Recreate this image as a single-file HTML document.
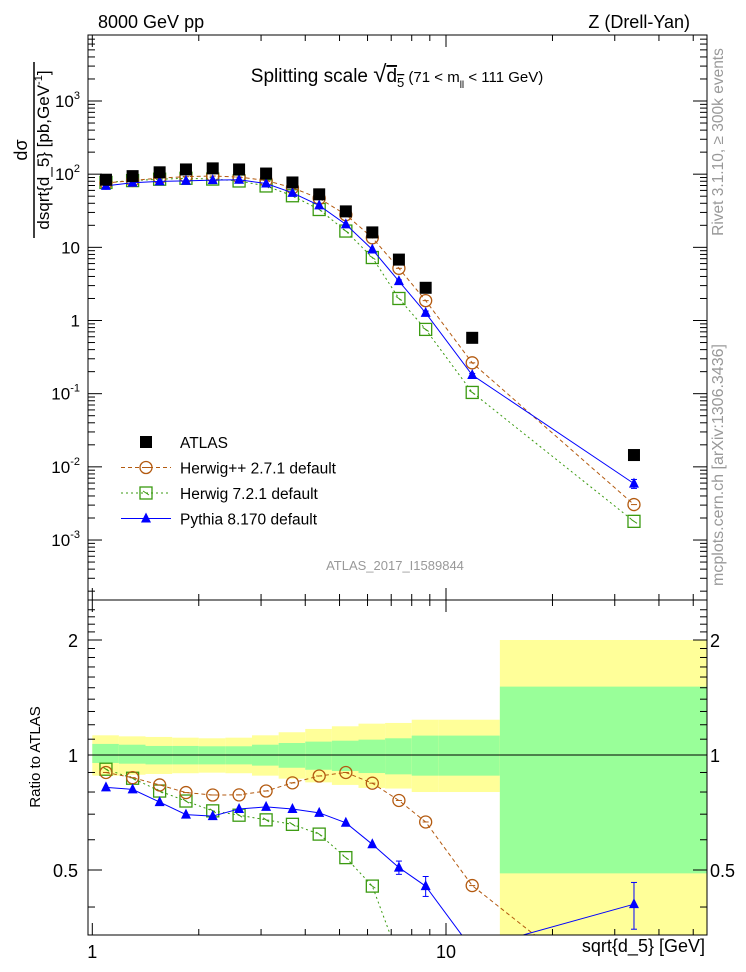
<!DOCTYPE html>
<html><head><meta charset="utf-8"><style>
html,body{margin:0;padding:0;background:#fff;overflow:hidden}
svg{display:block;font-family:"Liberation Sans",sans-serif}
</style></head><body>
<svg id="c" width="746" height="972" viewBox="0 0 746 972" xmlns="http://www.w3.org/2000/svg">
<defs>
<clipPath id="clipMain"><rect x="88" y="35" width="619" height="565"/></clipPath>
<clipPath id="clipRatio"><rect x="88" y="600" width="619" height="335"/></clipPath>
</defs>
<g id="bands" clip-path="url(#clipRatio)"></g>
<g id="grid"></g>
<g id="series"></g>
<rect x="88" y="35" width="619" height="565" fill="none" stroke="#000" stroke-width="1"/>
<rect x="88" y="600" width="619" height="335" fill="none" stroke="#000" stroke-width="1"/>
<text x="98" y="28" font-size="18">8000 GeV pp</text>
<text x="690" y="28" font-size="18" text-anchor="end">Z (Drell-Yan)</text>
<text x="397" y="82" font-size="19" text-anchor="middle">Splitting scale <tspan font-size="24">√</tspan><tspan text-decoration="overline">d<tspan font-size="13" dy="5">5</tspan></tspan><tspan dy="-5" font-size="15"> (71 &lt; m</tspan><tspan font-size="10" dy="6">ll</tspan><tspan dy="-6" font-size="15"> &lt; 111 GeV)</tspan></text>
<text x="395" y="570" font-size="13" fill="#999" text-anchor="middle">ATLAS_2017_I1589844</text>
<g transform="translate(27,150) rotate(-90)">
<text x="0" y="0" font-size="18" text-anchor="middle">dσ</text>
<line x1="-88" y1="7" x2="88" y2="7" stroke="#000" stroke-width="1.5"/>
<text x="0" y="22" font-size="17" text-anchor="middle">dsqrt{d_5} [pb,GeV<tspan font-size="11" dy="-7">-1</tspan><tspan dy="7">]</tspan></text>
</g>
<text transform="translate(40,757) rotate(-90)" font-size="15" text-anchor="middle">Ratio to ATLAS</text>
<text transform="translate(723,142) rotate(-90)" font-size="15.5" fill="#999" text-anchor="middle">Rivet 3.1.10, ≥ 300k events</text>
<text transform="translate(723,465) rotate(-90)" font-size="16" fill="#999" text-anchor="middle">mcplots.cern.ch [arXiv:1306.3436]</text>
<text x="705" y="952" font-size="18" text-anchor="end">sqrt{d_5} [GeV]</text>
<g id="legend"></g>
</svg>
<script>
const edges=[1,1.189,1.414,1.682,2.0,2.378,2.828,3.364,4.0,4.757,5.657,6.727,8.0,9.514,14.2,54.7];
const centers=[1.093,1.30,1.55,1.84,2.19,2.60,3.10,3.68,4.38,5.21,6.19,7.36,8.76,11.86,34.0];
const atlas=[84,94,106,116,120,116,102,77,53,31,16,6.8,2.8,0.58,0.0145];
const herwigpp=[75.6,82,88.5,92.5,94.3,91.2,82.1,65.1,46.7,27.9,13.5,5.17,1.87,0.264,0.00305];
const herwig7=[77.1,81.7,85.3,87.9,85.7,80.7,69,50.7,32.9,16.7,7.26,2.0,0.756,0.104,0.0018];
const pythia=[69.1,76.4,79.8,81,83,83.8,74.6,55.6,37.4,20.6,9.34,3.45,1.27,0.18,0.0059];
const pythiaErrRel=[0.01,0.01,0.01,0.01,0.01,0.01,0.01,0.01,0.01,0.01,0.02,0.04,0.06,0.05,0.14];
const totUp=[1.126,1.119,1.115,1.110,1.106,1.110,1.126,1.147,1.170,1.189,1.208,1.213,1.237,1.237,2.0];
const totDn=[0.883,0.888,0.892,0.896,0.899,0.896,0.883,0.867,0.848,0.835,0.820,0.817,0.800,0.800,0.30];
const statUp=[1.069,1.064,1.056,1.056,1.054,1.054,1.064,1.075,1.084,1.090,1.097,1.106,1.124,1.124,1.51];
const statDn=[0.953,0.949,0.945,0.945,0.945,0.945,0.938,0.926,0.915,0.908,0.897,0.890,0.883,0.883,0.49];
const yMainTicks=[3,2,1,0,-1,-2,-3];
const yMainLabels=["10^3","10^2","10","1","10^-1","10^-2","10^-3"];
const ratioTicks=[2,1,0.5];
const ratioLabels=["2","1","0.5"];
const xLabels=[[1,"1"],[10,"10"]];

const NS="http://www.w3.org/2000/svg";
const X0=92.3,XD=353.7;
const xs=v=>X0+Math.log10(v)*XD;
const ym=v=>101+(3-Math.log10(v))*73.17;
const yr=r=>755-Math.log2(r)*115;
function el(t,a,p){const e=document.createElementNS(NS,t);for(const k in a)e.setAttribute(k,a[k]);p.appendChild(e);return e;}
const bands=document.getElementById('bands');
const grid=document.getElementById('grid');
const series=document.getElementById('series');
const legend=document.getElementById('legend');

for(let i=0;i<centers.length;i++){
  const x1=xs(edges[i]),x2=Math.min(xs(edges[i+1]),707);
  let r=el('rect',{x:x1,y:yr(totUp[i]),width:x2-x1,height:yr(totDn[i])-yr(totUp[i]),fill:'#ffff99'},bands);
  
  
  r=el('rect',{x:x1,y:yr(statUp[i]),width:x2-x1,height:yr(statDn[i])-yr(statUp[i]),fill:'#99ff99'},bands);
  
  
}
let ref=el('line',{x1:88,x2:707,y1:yr(1),y2:yr(1),stroke:'#000','stroke-width':1},grid);



const xt=[];for(let d=1;d<=10;d*=10)for(let m=1;m<10;m++){const v=m*d;if(xs(v)<=707)xt.push([v,m==1]);}
xt.forEach(([v,maj])=>{
  const x=xs(v),L=maj?12:6;
  [[35,1],[600,-1],[600,1],[935,-1]].forEach(([y,dir])=>{el('line',{x1:x,x2:x,y1:y,y2:y+dir*L,stroke:'#000'},grid);});
});
xLabels.forEach(([v,s])=>{const t=el('text',{x:xs(v),y:958,'font-size':18,'text-anchor':'middle'},grid);t.textContent=s;

});

for(let e=-4;e<=3;e++)for(let m=1;m<10;m++){const v=m*Math.pow(10,e);const y=ym(v);if(y<35||y>600)continue;const L=m==1?14:7;
 el('line',{x1:88,x2:88+L,y1:y,y2:y,stroke:'#000'},grid);el('line',{x1:707,x2:707-L,y1:y,y2:y,stroke:'#000'},grid);}
yMainTicks.forEach((e,i)=>{
  const s=yMainLabels[i];const y=ym(Math.pow(10,e))+6;
  const t=el('text',{x:80,y:y,'font-size':17,'text-anchor':'end'},grid);
  
  
  if(s.includes('^')){const [b,p]=s.split('^');t.textContent=b;const ts=el('tspan',{'font-size':11,dy:-8},t);ts.textContent=p;}
  else t.textContent=s;
});
for(let r=0.4;r<=2.5;r+=0.1){const y=yr(r);if(y<600||y>935)continue;const maj=[0.5,1,2].some(q=>Math.abs(q-r)<1e-6);const L=maj?14:7;
 el('line',{x1:88,x2:88+L,y1:y,y2:y,stroke:'#000'},grid);el('line',{x1:707,x2:707-L,y1:y,y2:y,stroke:'#000'},grid);}
ratioTicks.forEach((r,i)=>{[[78,'end'],[710,'start']].forEach(([x,a])=>{const t=el('text',{x:x,y:yr(r)+7,'font-size':18,'text-anchor':a},grid);t.textContent=ratioLabels[i];

});});

function marker(kind,x,y,g){
  if(kind==='atlas')return el('rect',{x:x-6,y:y-6,width:12,height:12,fill:'#000'},g);
  if(kind==='hpp'){const c=el('circle',{cx:x,cy:y,r:6,fill:'none',stroke:'#b35a10','stroke-width':1.3},g);el('line',{x1:x-3,x2:x+3,y1:y,y2:y,stroke:'#b35a10'},g);return c;}
  if(kind==='h7'){const r=el('rect',{x:x-6,y:y-6,width:12,height:12,fill:'none',stroke:'#3a9a10','stroke-width':1.3},g);el('line',{x1:x-3,x2:x+3,y1:y-2,y2:y+2,stroke:'#3a9a10'},g);return r;}
  if(kind==='py')return el('polygon',{points:`${x},${y-6} ${x+5},${y+4} ${x-5},${y+4}`,fill:'#0000ff'},g);
}
const sets=[
 {k:'h7',d:herwig7,c:'#3a9a10',dash:'2,3',name:'herwig-7-2-1'},
 {k:'hpp',d:herwigpp,c:'#b35a10',dash:'4,3',name:'herwig-pp-2-7-1'},
 {k:'py',d:pythia,c:'#0000ff',dash:null,name:'pythia-8-170'}];
sets.forEach(s=>{
  ['main','ratio'].forEach(p=>{
    const g=el('g',{'clip-path':`url(#clip${p==='main'?'Main':'Ratio'})`},series);
    
    
    const pts=s.d.map((v,i)=>[xs(centers[i]),p==='main'?ym(v):yr(v/atlas[i])]);
    const a={points:pts.map(q=>q.join(',')).join(' '),fill:'none',stroke:s.c,'stroke-width':1};
    if(s.dash)a['stroke-dasharray']=s.dash;
    el('polyline',a,g);
    pts.forEach((q,i)=>{
      if(s.k==='py'){const v=s.d[i],e=pythiaErrRel[i];
        const f=p==='main'?ym:(u=>yr(u/atlas[i]));
        el('line',{x1:q[0],x2:q[0],y1:f(v*(1+e)),y2:f(v*(1-e)),stroke:s.c},g);
        if(e>0.03){el('line',{x1:q[0]-3,x2:q[0]+3,y1:f(v*(1+e)),y2:f(v*(1+e)),stroke:s.c},g);el('line',{x1:q[0]-3,x2:q[0]+3,y1:f(v*(1-e)),y2:f(v*(1-e)),stroke:s.c},g);}
      }
      const m=marker(s.k,q[0],q[1],g);
      
      
    });
  });
});
const ga=el('g',{'clip-path':'url(#clipMain)'},series);


atlas.forEach((v,i)=>{const m=marker('atlas',xs(centers[i]),ym(v),ga);

});

const leg=[['atlas','ATLAS',null,null],['hpp','Herwig++ 2.7.1 default','#b35a10','4,3'],['h7','Herwig 7.2.1 default','#3a9a10','2,3'],['py','Pythia 8.170 default','#0000ff',null]];
leg.forEach((L,i)=>{
  const y=442+i*25.5;
  const g=el('g',{},legend);
  
  
  if(L[2]){const a={x1:121,x2:171,y1:y,y2:y,stroke:L[2]};if(L[3])a['stroke-dasharray']=L[3];el('line',a,g);}
  marker(L[0],146,y,g);
  const t=el('text',{x:180,y:y+6,'font-size':15.5},g);t.textContent=L[1];
});
</script>
</body></html>
